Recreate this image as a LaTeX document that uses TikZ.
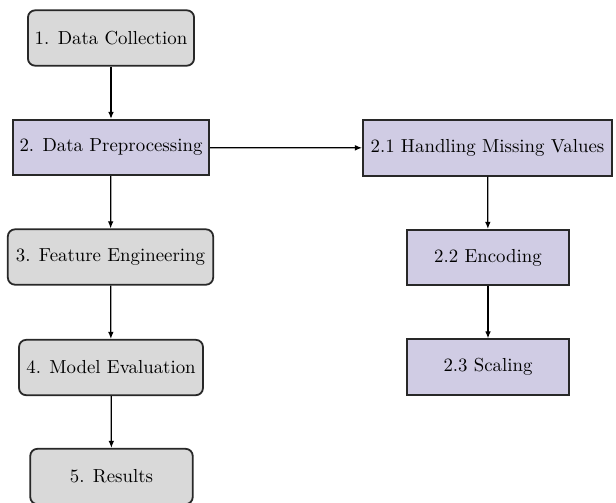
\documentclass[tikz,border=0pt]{standalone}
\usetikzlibrary{arrows.meta}
\definecolor{mainfill}{RGB}{217,217,217}
\definecolor{subfill}{RGB}{208,204,228}
\definecolor{edgecol}{RGB}{40,40,40}
\begin{document}
\begin{tikzpicture}[x=0.56pt,y=-0.56pt,
  every node/.style={font=\fontsize{10.55}{12.6}\selectfont},
  mainbox/.style={draw=edgecol,line width=1pt,fill=mainfill,rounded corners=4pt,inner sep=0pt,minimum height=31pt},
  subbox/.style={draw=edgecol,line width=1pt,fill=subfill,inner sep=0pt,minimum height=31pt},
  flow/.style={-{Latex[length=4pt,width=3.2pt]},line width=0.7pt,black}]
\clip (0,0) rectangle (616,502);
\fill[white] (0,0) rectangle (616,502);
\node[mainbox,minimum width=93pt] (n1) at (111,38) {1. Data Collection};
\node[subbox,minimum width=110pt] (n2) at (111,147.5) {2. Data Preprocessing};
\node[mainbox,minimum width=115pt] (n3) at (110.5,257) {3. Feature Engineering};
\node[mainbox,minimum width=103pt] (n4) at (111,367.5) {4. Model Evaluation};
\node[mainbox,minimum width=91pt] (n5) at (111.5,476.5) {5. Results};
\node[subbox,minimum width=139.5pt] (s1) at (487.5,148) {2.1 Handling Missing Values};
\node[subbox,minimum width=91pt] (s2) at (488,257.5) {2.2 Encoding};
\node[subbox,minimum width=91pt] (s3) at (488,367) {2.3 Scaling};
\draw[flow] (n1) -- (n2);
\draw[flow] (n2) -- (n3);
\draw[flow] (n3) -- (n4);
\draw[flow] (n4) -- (n5);
\draw[flow] (n2) -- (s1);
\draw[flow] (s1) -- (s2);
\draw[flow] (s2) -- (s3);
\end{tikzpicture}
\end{document}
